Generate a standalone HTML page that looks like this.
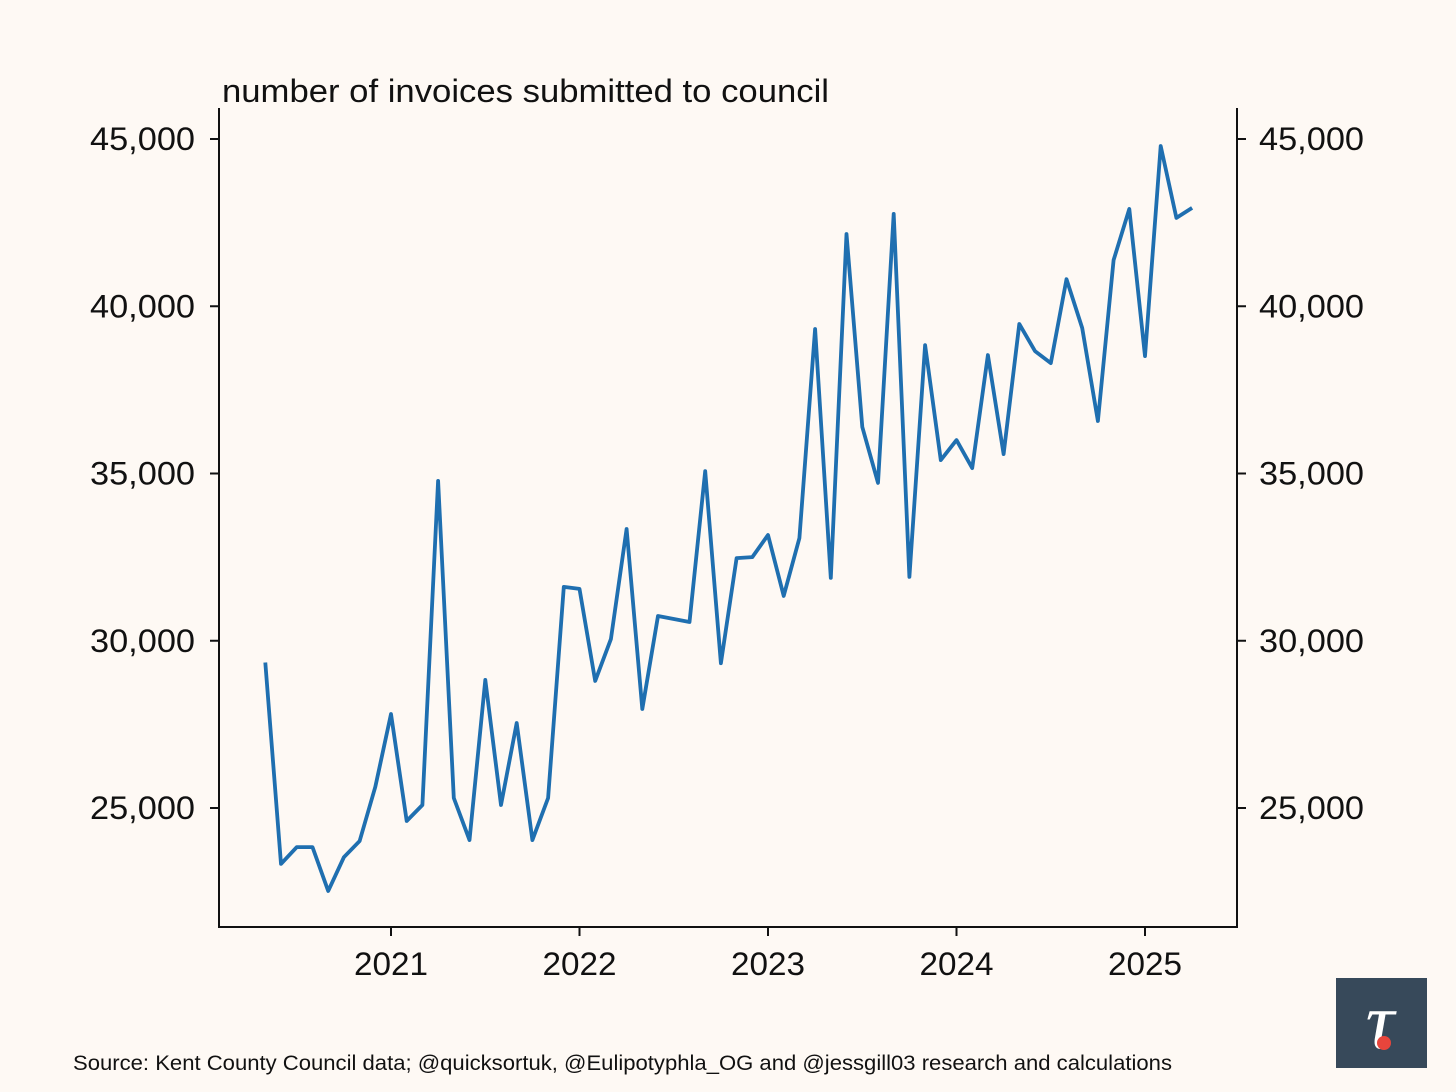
<!DOCTYPE html>
<html><head><meta charset="utf-8"><style>
body{margin:0;background:#fef9f4;}
svg{display:block;font-family:"Liberation Sans",Arial,sans-serif;}
</style></head><body>
<svg id="chart" width="1456" height="1092" viewBox="0 0 1456 1092">
<rect width="1456" height="1092" fill="#fef9f4"/>
<text x="222" y="102" font-size="32" fill="#111" textLength="607" lengthAdjust="spacingAndGlyphs">number of invoices submitted to council</text>
<g id="axes"></g>
<path id="series" fill="none" stroke="#1f6fb0" stroke-width="3.8" stroke-linejoin="round"/>
<text x="73" y="1070" font-size="21" fill="#111" textLength="1099" lengthAdjust="spacingAndGlyphs">Source: Kent County Council data; @quicksortuk, @Eulipotyphla_OG and @jessgill03 research and calculations</text>
<g>
<rect x="1336" y="978" width="91" height="90" fill="#37495a"/>
<text x="1380" y="1048" font-size="80" fill="#fff" text-anchor="middle" font-family="Liberation Serif,serif" font-style="italic">τ</text>
<circle cx="1384" cy="1043" r="7" fill="#e8453c"/>
</g>
</svg>
<script>
const startYear = 2020, startMonth = 5;
const values = [29350,23330,23830,23830,22520,23530,24010,25630,27810,24610,25090,34780,25300,24040,28830,25090,27540,24040,25300,31610,31550,28800,30050,33340,27960,30740,30650,30560,35070,29330,32470,32500,33160,31340,33070,39320,31880,42160,36390,34720,42760,31910,38840,35400,36000,35160,38540,35580,39470,38660,38300,40810,39350,36570,41380,42910,38510,44790,42640,42940];
const yTicks = [25000,30000,35000,40000,45000];
const xTicks = [2021,2022,2023,2024,2025];

const ns="http://www.w3.org/2000/svg";
const y = v => 808 - (v-25000)*(669/20000);
const xOfYear = t => 391 + (t-2021)*188.5;
const x = i => xOfYear(startYear + (startMonth-1+i)/12);
const axes=document.getElementById('axes');
function mk(tag,attrs){const e=document.createElementNS(ns,tag);for(const k in attrs)e.setAttribute(k,attrs[k]);axes.appendChild(e);return e;}
let e;
e=mk('line',{x1:219,y1:108,x2:219,y2:928,stroke:'#111','stroke-width':2});


e=mk('line',{x1:1237,y1:108,x2:1237,y2:928,stroke:'#111','stroke-width':2});


e=mk('line',{x1:218,y1:927,x2:1238,y2:927,stroke:'#111','stroke-width':2});


yTicks.forEach(v=>{
  const yy=y(v), lab=v.toLocaleString('en-US');
  e=mk('line',{x1:210,y1:yy,x2:219,y2:yy,stroke:'#111','stroke-width':2});
  
  
  e=mk('line',{x1:1237,y1:yy,x2:1246,y2:yy,stroke:'#111','stroke-width':2});
  
  
  e=mk('text',{x:90,y:yy+11,'font-size':32,fill:'#111',textLength:105,lengthAdjust:'spacingAndGlyphs'});e.textContent=lab;
  
  
  e=mk('text',{x:1259,y:yy+11,'font-size':32,fill:'#111',textLength:105,lengthAdjust:'spacingAndGlyphs'});e.textContent=lab;
  
  
});
xTicks.forEach(t=>{
  const xx=xOfYear(t);
  e=mk('line',{x1:xx,y1:927,x2:xx,y2:936,stroke:'#111','stroke-width':2});
  
  
  e=mk('text',{x:xx-37,y:975,'font-size':32,fill:'#111',textLength:74,lengthAdjust:'spacingAndGlyphs'});e.textContent=t;
  
  
});
document.getElementById('series').setAttribute('d',values.map((v,i)=>(i?'L':'M')+x(i).toFixed(1)+' '+y(v).toFixed(1)).join(' '));
</script>
</body></html>
